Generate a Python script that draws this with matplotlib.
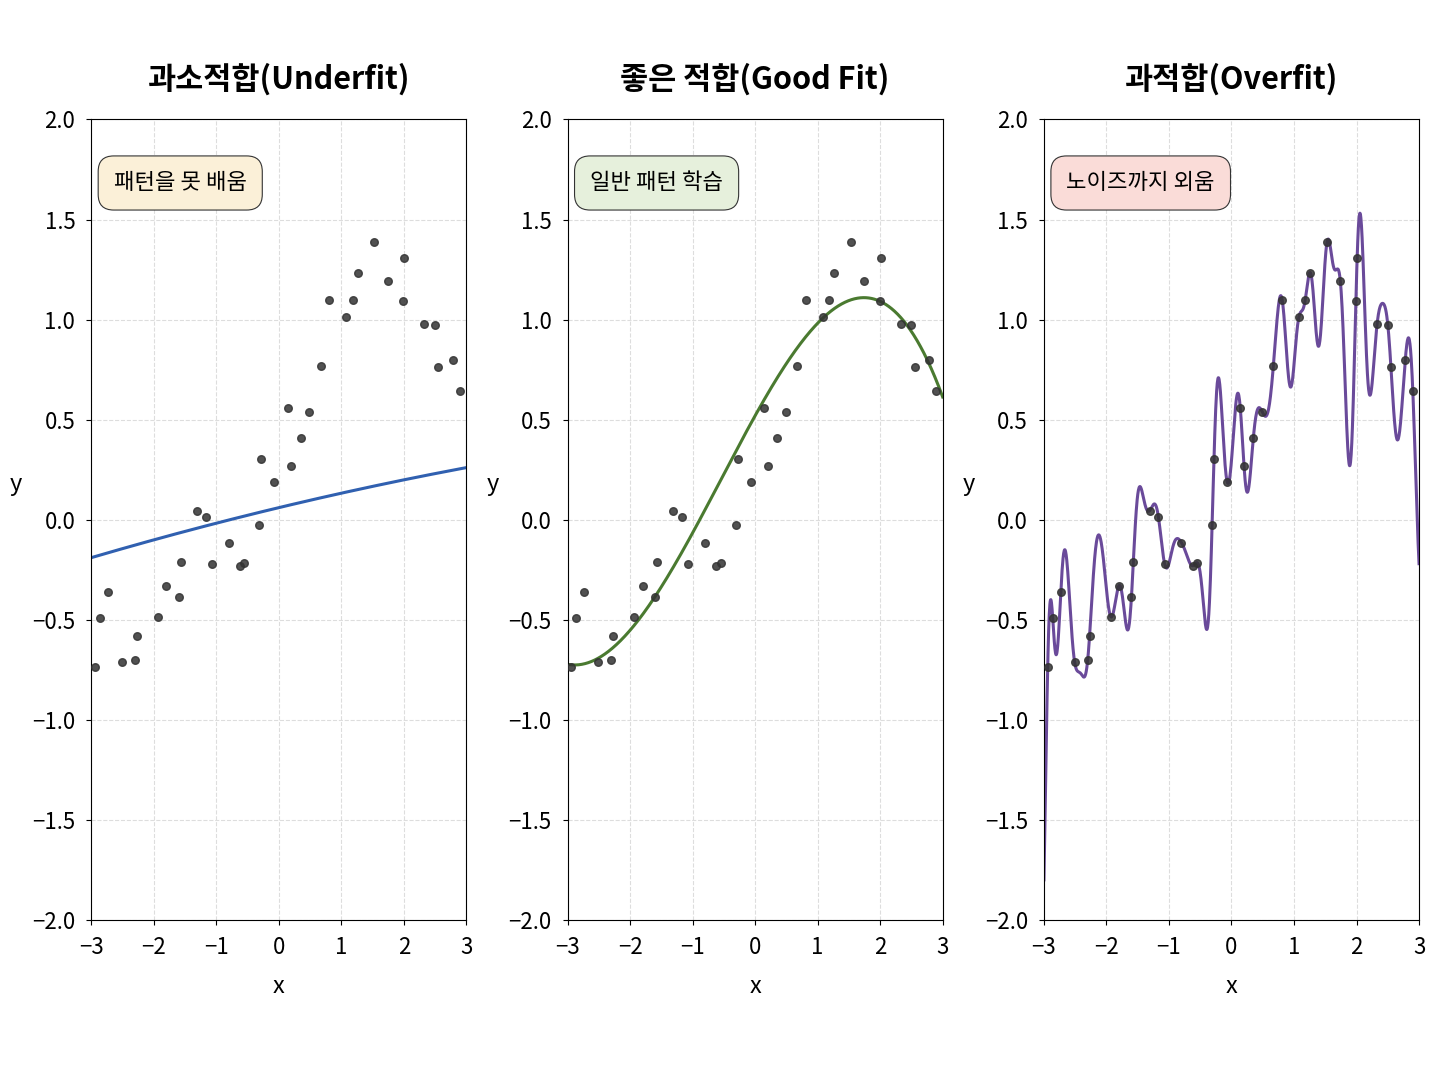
import numpy as np
import matplotlib
matplotlib.use("Agg")
import matplotlib.pyplot as plt

plt.rcParams['font.family'] = ['Noto Sans CJK KR', 'DejaVu Sans']
plt.rcParams['axes.unicode_minus'] = True

# data points
x_pts = [-2.94, -2.86, -2.73, -2.51, -2.30, -2.27, -1.93, -1.80, -1.60, -1.57,
         -1.31, -1.17, -1.07, -0.80, -0.62, -0.55, -0.31, -0.28, -0.07, 0.14,
         0.20, 0.35, 0.49, 0.67, 0.81, 1.08, 1.18, 1.26, 1.53, 1.74,
         1.99, 2.01, 2.33, 2.50, 2.55, 2.78, 2.90]
y_pts = [-0.735, -0.49, -0.36, -0.71, -0.70, -0.58, -0.485, -0.33, -0.385, -0.21,
         0.045, 0.015, -0.22, -0.115, -0.23, -0.215, -0.025, 0.305, 0.19, 0.56,
         0.27, 0.41, 0.54, 0.77, 1.10, 1.015, 1.10, 1.235, 1.39, 1.195,
         1.095, 1.31, 0.98, 0.975, 0.765, 0.80, 0.645]

# underfit line
under_x = [-3, 0, 3]
under_y = [-0.19, 0.06, 0.26]

# good-fit curve control points
good_x = [-3.0, -2.5, -1.6, 0.0, 1.5, 2.2, 3.0]
good_y = [-0.72, -0.70, -0.37, 0.50, 1.13, 1.02, 0.62]

# overfit curve ends
over_x = [-3.0, 3.0]
over_y = [-1.80, -0.22]

titles = ['과소적합(Underfit)', '좋은 적합(Good Fit)', '과적합(Overfit)']
notes = ['패턴을 못 배움', '일반 패턴 학습', '노이즈까지 외움']
line_colors = ['#3060b0', '#4a7a30', '#6a4a9a']
box_colors = ['#fbf0d8', '#e6f0dc', '#fadcd8']

x = np.array(x_pts)
y = np.array(y_pts)
xs = np.linspace(-3, 3, 1200)

# overfit: exact gaussian-rbf interpolation through every point
ox = np.concatenate([x, over_x])
oy = np.concatenate([y, over_y])
w = 0.13
K = np.exp(-((ox[:, None] - ox[None, :]) / w) ** 2)
coef = np.linalg.solve(K + 1e-6 * np.eye(len(ox)), oy)
over_curve = np.exp(-((xs[:, None] - ox[None, :]) / w) ** 2) @ coef

curves = [
    np.polyval(np.polyfit(under_x, under_y, 2), xs),
    np.polyval(np.polyfit(good_x, good_y, 4), xs),
    over_curve,
]

fig, axes = plt.subplots(1, 3, figsize=(14.48, 10.86), dpi=100)
for i, ax in enumerate(axes):
    ax.scatter(x, y, s=30, color='#333333', alpha=0.85, zorder=3)
    ax.plot(xs, curves[i], color=line_colors[i], lw=2.2, zorder=2)
    ax.set_xlim(-3, 3)
    ax.set_ylim(-2, 2)
    ax.set_xticks(range(-3, 4))
    ax.set_title(titles[i], fontsize=22, fontweight='bold', pad=22)
    ax.set_xlabel('x', fontsize=17, labelpad=12)
    ax.set_ylabel('y', fontsize=17, rotation=0, labelpad=14)
    ax.yaxis.set_label_coords(-0.2, 0.53)
    ax.tick_params(labelsize=16, pad=8)
    ax.grid(True, linestyle='--', color='#dddddd', lw=0.8)
    ax.text(0.06, 0.935, notes[i], transform=ax.transAxes, fontsize=16, va='top',
            bbox=dict(boxstyle='round,pad=0.7', fc=box_colors[i], ec='#333333', lw=0.8))

plt.subplots_adjust(left=0.063, right=0.98, top=0.89, bottom=0.153, wspace=0.27)
plt.savefig('out.png')
